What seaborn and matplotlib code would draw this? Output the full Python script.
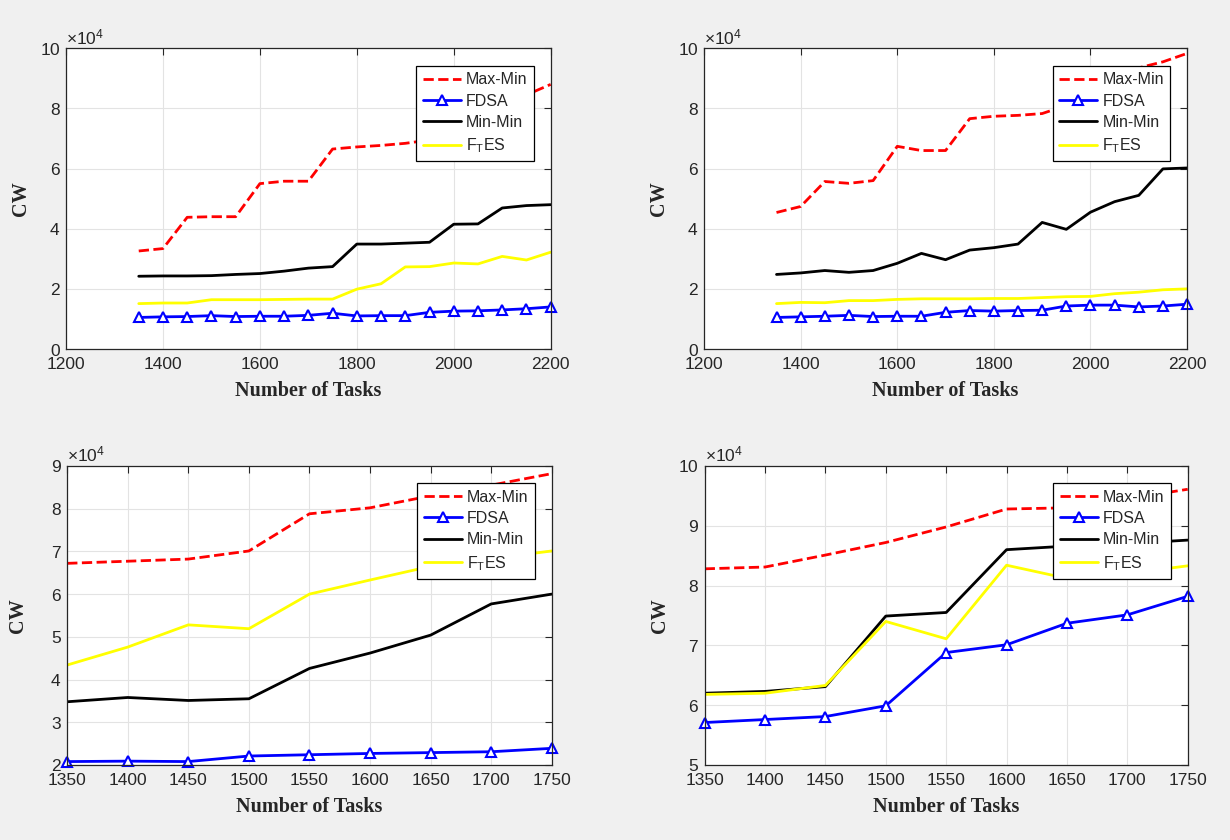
import matplotlib
matplotlib.use("Agg")
import matplotlib.pyplot as plt
import seaborn as sns

# Data (nilai CW mentah)
tasks_long = [1350, 1400, 1450, 1500, 1550, 1600, 1650, 1700, 1750,
              1800, 1850, 1900, 1950, 2000, 2050, 2100, 2150, 2200]
tasks_short = [1350, 1400, 1450, 1500, 1550, 1600, 1650, 1700, 1750]

# panel kiri atas
a_maxmin = [32600, 33400, 43800, 44000, 44000, 55000, 55800, 55800, 66500,
            67200, 67700, 68400, 69500, 76000, 79000, 82000, 84500, 88000]
a_fdsa = [10500, 10700, 10800, 11100, 10800, 10900, 10900, 11200, 11900,
          11000, 11100, 11100, 12200, 12600, 12700, 13000, 13400, 14000]
a_minmin = [24200, 24300, 24300, 24400, 24800, 25100, 25900, 26900, 27400,
            34900, 34900, 35200, 35500, 41500, 41600, 46900, 47700, 48000]
a_ftes = [15100, 15300, 15300, 16400, 16400, 16400, 16500, 16600, 16600,
          19900, 21700, 27300, 27400, 28600, 28300, 30800, 29600, 32200]

# panel kanan atas
b_maxmin = [45400, 47400, 55700, 55100, 56000, 67400, 66000, 66000, 76600,
            77400, 77700, 78300, 81000, 85000, 89000, 93500, 95500, 98300]
b_fdsa = [10500, 10700, 10900, 11200, 10800, 10900, 10900, 12200, 12800,
          12600, 12800, 12900, 14300, 14600, 14600, 14000, 14300, 14900]
b_minmin = [24800, 25300, 26100, 25500, 26100, 28500, 31800, 29700, 32900,
            33700, 34900, 42100, 39800, 45500, 49000, 51100, 59900, 60200]
b_ftes = [15100, 15500, 15400, 16100, 16100, 16500, 16700, 16700, 16700,
          16800, 16800, 17100, 17400, 17500, 18400, 18900, 19700, 20000]

# panel kiri bawah
c_maxmin = [67200, 67700, 68200, 70100, 78800, 80200, 83000, 85500, 88200]
c_fdsa = [20800, 20900, 20800, 22100, 22400, 22700, 22900, 23100, 23900]
c_minmin = [34800, 35800, 35100, 35500, 42600, 46200, 50400, 57700, 60000]
c_ftes = [43400, 47600, 52800, 51900, 60000, 63300, 66500, 68300, 70100]

# panel kanan bawah
d_maxmin = [82800, 83100, 85100, 87200, 89800, 92800, 93000, 94500, 96100]
d_fdsa = [57100, 57600, 58100, 59900, 68800, 70100, 73700, 75100, 78200]
d_minmin = [62000, 62300, 63100, 74900, 75500, 86000, 86600, 87000, 87600]
d_ftes = [61800, 62000, 63300, 74000, 71100, 83400, 81200, 82000, 83300]

labels = ["Max-Min", "FDSA", "Min-Min", r"F$_\mathregular{T}$ES"]

sns.set_style("whitegrid")
plt.rcParams['font.family'] = ['Liberation Sans', 'DejaVu Sans']
plt.rcParams['mathtext.fontset'] = 'custom'
plt.rcParams['mathtext.rm'] = 'Liberation Sans'

DARK = "#262626"

fig = plt.figure(figsize=(12.3, 8.4), dpi=100, facecolor="#f0f0f0")
positions = [
    [0.0537, 0.5845, 0.394, 0.358],
    [0.5724, 0.5845, 0.3927, 0.358],
    [0.0546, 0.0893, 0.394, 0.356],
    [0.5729, 0.0893, 0.3927, 0.356],
]
# posisi label "CW" (koordinat sumbu)
ylabel_x = [-0.072, -0.072, -0.08, -0.072]

panels = [
    (tasks_long, [a_maxmin, a_fdsa, a_minmin, a_ftes], (1200, 2200), [1200, 1400, 1600, 1800, 2000, 2200], (0, 100000), [0, 20000, 40000, 60000, 80000, 100000]),
    (tasks_long, [b_maxmin, b_fdsa, b_minmin, b_ftes], (1200, 2200), [1200, 1400, 1600, 1800, 2000, 2200], (0, 100000), [0, 20000, 40000, 60000, 80000, 100000]),
    (tasks_short, [c_maxmin, c_fdsa, c_minmin, c_ftes], (1350, 1750), tasks_short, (20000, 90000), [20000, 30000, 40000, 50000, 60000, 70000, 80000, 90000]),
    (tasks_short, [d_maxmin, d_fdsa, d_minmin, d_ftes], (1350, 1750), tasks_short, (50000, 100000), [50000, 60000, 70000, 80000, 90000, 100000]),
]

for pos, lx, (xs, series, xlim, xticks, ylim, yticks) in zip(positions, ylabel_x, panels):
    ax = fig.add_axes(pos)
    ax.set_facecolor("white")
    maxmin, fdsa, minmin, ftes = series
    sns.lineplot(x=xs, y=maxmin, ax=ax, color="red", linestyle="--", lw=2, label=labels[0])
    sns.lineplot(x=xs, y=fdsa, ax=ax, color="blue", lw=2, marker="^", markersize=7,
                 markerfacecolor="white", markeredgecolor="blue", markeredgewidth=1.5,
                 label=labels[1], clip_on=False)
    sns.lineplot(x=xs, y=minmin, ax=ax, color="black", lw=2, label=labels[2])
    sns.lineplot(x=xs, y=ftes, ax=ax, color="yellow", lw=2, label=labels[3])

    ax.set_xlim(*xlim)
    ax.set_ylim(*ylim)
    ax.set_xticks(xticks)
    ax.set_yticks(yticks)
    ax.ticklabel_format(axis="y", style="sci", scilimits=(4, 4), useMathText=True)
    ax.yaxis.get_offset_text().set_fontsize(12.5)
    ax.yaxis.get_offset_text().set_color(DARK)

    ax.grid(True, color="#e3e3e3", lw=0.8)
    for sp in ax.spines.values():
        sp.set_color(DARK)
        sp.set_linewidth(0.9)
    ax.tick_params(direction="in", length=5, width=0.8, colors=DARK, labelsize=12.5,
                   top=True, right=True, labelcolor=DARK)
    ax.tick_params(axis="x", pad=6)
    ax.tick_params(axis="y", pad=4)

    ax.set_xlabel("Number of Tasks", fontfamily="Liberation Serif", fontweight="bold",
                  fontsize=14.5, color=DARK, labelpad=6)
    ax.set_ylabel("CW", fontfamily="Liberation Serif", fontweight="bold",
                  fontsize=14.5, color=DARK)
    ax.yaxis.set_label_coords(lx, 0.5)

    leg = ax.legend(loc="upper right", bbox_to_anchor=(0.965, 0.942), borderaxespad=0,
                    fontsize=11.5, fancybox=False, framealpha=1, edgecolor="black",
                    handlelength=2.4, handletextpad=0.3, labelspacing=0.4,
                    borderpad=0.4)
    leg.get_frame().set_linewidth(0.9)
    for t in leg.get_texts():
        t.set_color(DARK)

fig.savefig("out.png", dpi=100, facecolor=fig.get_facecolor())
